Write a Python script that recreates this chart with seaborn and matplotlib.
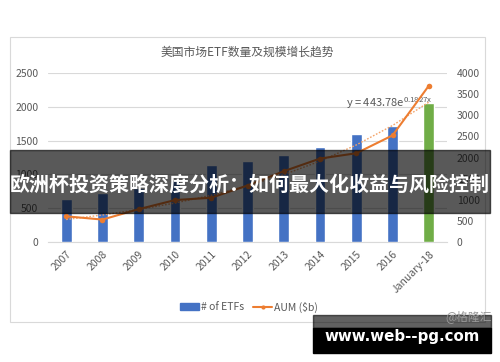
import matplotlib
matplotlib.use('Agg')
import matplotlib.pyplot as plt
import seaborn as sns
import numpy as np
import pandas as pd
from matplotlib.patches import Rectangle, Patch
from matplotlib.lines import Line2D

categories = ['2007', '2008', '2009', '2010', '2011', '2012', '2013', '2014', '2015', '2016', 'January-18']
num_etfs = [629, 728, 797, 923, 1134, 1194, 1294, 1411, 1594, 1716, 2050]
aum_bn = [608, 531, 777, 992, 1048, 1337, 1675, 1975, 2101, 2524, 3700]
bar_colors = ['#4472C4'] * 10 + ['#70AD47']
trend_a, trend_b = 443.78, 0.1827
left_ticks = [0, 500, 1000, 1500, 2000, 2500]
right_ticks = [0, 500, 1000, 1500, 2000, 2500, 3000, 3500, 4000]
title = '美国市场ETF数量及规模增长趋势'
trend_label = r'y = 443.78e$^{\mathregular{0.1827x}}$'
legend_labels = ['# of ETFs', 'AUM ($b)']
banner = '欧洲杯投资策略深度分析：如何最大化收益与风险控制'
site = 'www.web--pg.com'
watermark = '@格隆汇'

sns.set_theme(style='white')
plt.rcParams['font.family'] = ['Noto Sans CJK SC', 'DejaVu Sans']

GRAY = '#595959'
ORANGE = '#ED7D31'

fig = plt.figure(figsize=(5, 3.62), dpi=100)
fig.patch.set_facecolor('white')
ax = fig.add_axes([48 / 500, 1 - 242 / 362, 399 / 500, 169 / 362])

df = pd.DataFrame({'cat': categories, 'etfs': num_etfs, 'aum': aum_bn,
                   'pos': np.arange(len(categories))})

sns.barplot(data=df, x='cat', y='etfs', hue='cat', palette=bar_colors, width=0.3,
            legend=False, ax=ax, saturation=1, zorder=3)
ax.set_xlim(-0.5, len(categories) - 0.5)
ax.set_ylim(0, 2500)
ax.set_yticks(left_ticks)
ax.yaxis.grid(True, color='#D9D9D9', lw=0.8)
ax.set_axisbelow(True)
for s in ['top', 'right', 'left']:
    ax.spines[s].set_visible(False)
ax.spines['bottom'].set_color('#D9D9D9')
ax.spines['bottom'].set_linewidth(0.8)
ax.set_xlabel('')
ax.set_ylabel('')
ax.tick_params(axis='y', length=0, pad=7, labelsize=7.5, labelcolor=GRAY)
ax.tick_params(axis='x', length=0, pad=5, labelsize=7.5, labelcolor=GRAY)
for lab in ax.get_xticklabels():
    lab.set_rotation(45)
    lab.set_ha('right')
    lab.set_rotation_mode('anchor')

ax.text(7.71, 2056, trend_label, ha='left', va='center', fontsize=8, color=GRAY, zorder=2)

ax2 = ax.twinx()
trend = trend_a * np.exp(trend_b * (df['pos'] + 1))
sns.lineplot(x=df['pos'], y=trend, ax=ax2, color='#F4A46A', lw=1.0, linestyle=(0, (1.2, 1.2)))
sns.lineplot(data=df, x='pos', y='aum', ax=ax2, color=ORANGE, lw=1.5, marker='o',
             markersize=4, markeredgewidth=0)
ax2.set_ylim(0, 4000)
ax2.set_xlim(-0.5, len(categories) - 0.5)
ax2.set_yticks(right_ticks)
ax2.set_xlabel('')
ax2.set_ylabel('')
for s in ['top', 'right', 'left', 'bottom']:
    ax2.spines[s].set_visible(False)
ax2.tick_params(axis='y', length=0, pad=7, labelsize=7.5, labelcolor=GRAY)

# chart frame
fig.patches.append(Rectangle((10 / 500, 1 - 322 / 362), 475 / 500, 285 / 362,
                             transform=fig.transFigure, fill=False, ec='#D9D9D9', lw=0.8))
fig.text(247.5 / 500, 1 - 52 / 362, title, ha='center', va='center', fontsize=8.5, color=GRAY)

handles = [Patch(color='#4472C4'),
           Line2D([], [], color=ORANGE, marker='o', ms=3, lw=1.5, markeredgewidth=0)]
fig.legend(handles, legend_labels, loc='center', bbox_to_anchor=(0.498, 1 - 307 / 362), ncol=2,
           frameon=False, fontsize=7.5, handlelength=1.8, handletextpad=0.2,
           columnspacing=0.9, labelcolor=GRAY)

# banner overlay
fig.patches.append(Rectangle((10 / 500, 1 - 213 / 362), 480 / 500, 63 / 362, color='black',
                             alpha=0.65, transform=fig.transFigure, zorder=10))
fig.text(250 / 500, 1 - 184 / 362, banner, color='white', fontsize=14.4, fontweight='bold',
         ha='center', va='center', zorder=11)

# bottom-right site box
fig.patches.append(Rectangle((313 / 500, 1 - 328 / 362), 178 / 500, 13 / 362, color='black',
                             alpha=0.62, transform=fig.transFigure, zorder=10))
fig.text(492 / 500, 1 - 317 / 362, watermark, ha='right', va='center', color='#9A9A9A',
         fontsize=8.5, zorder=12)
fig.patches.append(Rectangle((313 / 500, 1 - 353 / 362), 178 / 500, 25 / 362, color='black',
                             transform=fig.transFigure, zorder=13))
fig.text(402 / 500, 1 - 337 / 362, site, color='white', fontsize=10.8, fontweight='bold',
         family='DejaVu Sans', ha='center', va='center', zorder=14)

fig.savefig('out.png', dpi=100)
